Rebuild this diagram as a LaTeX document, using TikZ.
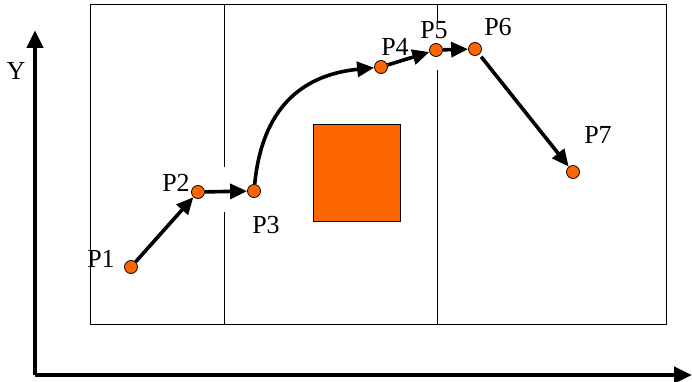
\documentclass[tikz,border=0pt]{standalone}
\usepackage{fontspec}
\setmainfont{Liberation Serif}
\usetikzlibrary{positioning, arrows.meta}
\definecolor{ptorange}{HTML}{FF6600}

\begin{document}
\begin{tikzpicture}[
    x=1pt, y=-1pt,
    pt/.style={circle, draw=black, line width=0.8pt, fill=ptorange, minimum size=13pt, inner sep=0pt},
    lbl/.style={font=\fontsize{26}{30}\selectfont, inner sep=0pt},
    move/.style={-{Triangle[length=17pt,width=15pt]}, line width=3.6pt},
    axis/.style={-{Triangle[length=18pt,width=16pt]}, line width=4.5pt},
]
\useasboundingbox (0,0) rectangle (692,382);

% field and dividers
\draw[line width=1pt] (90,5) rectangle (666,324);
\draw[line width=1pt] (224,5) -- (224,167);
\draw[line width=1pt] (224,212) -- (224,324);
\draw[line width=1pt] (437,5) -- (437,22);
\draw[line width=1pt] (437,70) -- (437,324);

% obstacle
\draw[line width=1pt, fill=ptorange] (313,125) rectangle (400,221);

% axes
\coordinate (origin) at (35,375);
\coordinate (ytop) at (35,30);
\coordinate (xend) at (692,375);
\draw[axis] (origin) -- (ytop);
\draw[axis] (origin) -- (xend);
\node[lbl] (ylab) at (16,71) {Y};

% points
\node[pt] (p1) at (131,267) {};
\node[pt] (p2) at (198,192) {};
\node[pt] (p3) at (254,191) {};
\node[pt] (p4) at (381,67) {};
\node[pt] (p5) at (436,50) {};
\node[pt] (p6) at (475,49) {};
\node[pt] (p7) at (573,172) {};

\node[lbl] (l1) at (101,259) {P1};
\node[lbl] (l2) at (176,183) {P2};
\node[lbl] (l3) at (266,225) {P3};
\node[lbl] (l4) at (395,47) {P4};
\node[lbl] (l5) at (434,30) {P5};
\node[lbl] (l6) at (498,27) {P6};
\node[lbl] (l7) at (598,135) {P7};

% path
\draw[move] (p1) -- (p2);
\draw[move] (p2) -- (p3);
\draw[move] (p3) .. controls (262,110) and (300,75) .. (p4);
\draw[move] (p4) -- (p5);
\draw[move] (p5) -- (p6);
\draw[move, shorten <=3pt] (p6) -- (p7);

\end{tikzpicture}
\end{document}
